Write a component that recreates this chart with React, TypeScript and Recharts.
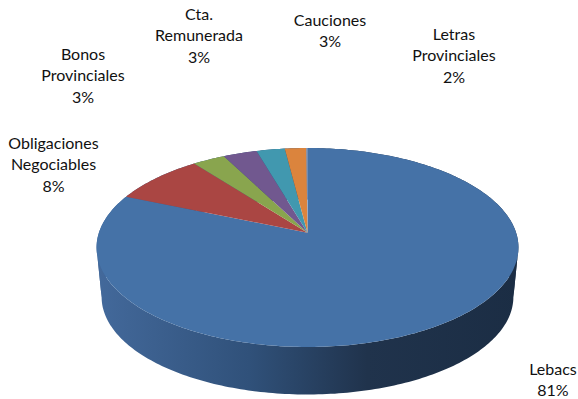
import { PieChart, Pie } from "recharts";

const categories = [
  "Lebacs",
  "Obligaciones Negociables",
  "Bonos Provinciales",
  "Cta. Remunerada",
  "Cauciones",
  "Letras Provinciales",
  "",
];
const values = [81.4, 8.2, 2.9, 3.0, 2.5, 1.9, 0.1];
const colors = ["#4572A7", "#AA4643", "#89A54E", "#71588F", "#4198AF", "#DB843D", "#93A9CF"];

const labelLines = [
  ["Lebacs"],
  ["Obligaciones", "Negociables"],
  ["Bonos", "Provinciales"],
  ["Cta.", "Remunerada"],
  ["Cauciones"],
  ["Letras", "Provinciales"],
  [],
];
const labelAnchors = [
  { x: 553, y: 367.8 },
  { x: 53.5, y: 141.5 },
  { x: 83, y: 52.5 },
  { x: 199, y: 12.5 },
  { x: 330, y: 18.5 },
  { x: 454, y: 32.5 },
  { x: 0, y: 0 },
];

const data = categories.map((name, i) => ({ name, value: values[i], fill: colors[i] }));

const CX = 307.5;
const CY = 232.7;
const RADIUS = 208.6;
// perspective of the tilted disc
const TILT = 0.4664;
const PERSP = 0.1487;
const ELLIPSE_CY = 247.5;
const LINE_HEIGHT = 21.5;

type Pt = { x: number; y: number };

const project = (cx: number, cy: number, r: number, angle: number): Pt => {
  const rad = (angle * Math.PI) / 180;
  const u = Math.cos(rad);
  const v = Math.sin(rad);
  const w = 1 + PERSP * v;
  return { x: cx + (r * u) / w, y: cy - (r * TILT * v) / w };
};

const edgePoints = (props: any) => {
  const { cx, cy, outerRadius, startAngle, endAngle } = props;
  const steps = Math.max(2, Math.ceil(Math.abs(endAngle - startAngle)));
  const pts: Pt[] = [];
  for (let i = 0; i <= steps; i++) {
    pts.push(project(cx, cy, outerRadius, startAngle + ((endAngle - startAngle) * i) / steps));
  }
  return pts;
};

const toPath = (pts: Pt[]) =>
  pts.map((p, i) => `${i ? "L" : "M"}${p.x.toFixed(2)} ${p.y.toFixed(2)}`).join(" ");

const TopFace = (props: any) => {
  const pts = edgePoints(props);
  return <path d={`M${props.cx} ${props.cy} ${toPath(pts).replace("M", "L")} Z`} fill={props.fill} stroke="none" />;
};

const SideWall = (props: any) => {
  const top = edgePoints(props);
  const bottom = top.map((p) => ({
    x: props.cx + (p.x - props.cx) * 0.976,
    y: 297 + (p.y - ELLIPSE_CY) * 0.98,
  }));
  // quads go in one path per winding direction, so no seams and nothing cancels
  const forward: string[] = [];
  const backward: string[] = [];
  top.slice(1).forEach((p, i) => {
    const d = `${toPath([top[i], p, bottom[i + 1], bottom[i]])} Z`;
    if (p.x < top[i].x) forward.push(d);
    else backward.push(d);
  });
  return (
    <g>
      <path d={backward.join(" ")} fill="url(#wallGradient)" stroke="none" />
      <path d={forward.join(" ")} fill="url(#wallGradient)" stroke="none" />
    </g>
  );
};

const renderLabel = (props: any) => {
  const { index } = props;
  const lines = labelLines[index];
  if (!lines.length) return null;
  const anchor = labelAnchors[index];
  const all = [...lines, `${Math.round(values[index])}%`];
  return (
    <text
      key={index}
      textAnchor="middle"
      dominantBaseline="central"
      fontFamily="Lato"
      fontSize={16}
      fill="#111111"
    >
      {all.map((line, i) => (
        <tspan key={i} x={anchor.x} y={anchor.y + i * LINE_HEIGHT} dominantBaseline="central">
          {line}
        </tspan>
      ))}
    </text>
  );
};

export default function App() {
  return (
    <div style={{ position: "absolute", left: 0, top: 0, width: 578, height: 399, background: "#fff" }}>
      <PieChart width={578} height={399} margin={{ top: 0, right: 0, bottom: 0, left: 0 }}>
        <defs>
          <linearGradient id="wallGradient" gradientUnits="userSpaceOnUse" x1="97" y1="0" x2="519" y2="0">
            <stop offset="0%" stopColor="#43699B" />
            <stop offset="36%" stopColor="#30517A" />
            <stop offset="64%" stopColor="#20334C" />
            <stop offset="100%" stopColor="#1B2D44" />
          </linearGradient>
        </defs>
        <Pie
          data={data}
          dataKey="value"
          cx={CX}
          cy={CY}
          outerRadius={RADIUS}
          startAngle={90}
          endAngle={-270}
          paddingAngle={0}
          stroke="none"
          shape={SideWall}
          isAnimationActive={false}
        />
        <Pie
          data={data}
          dataKey="value"
          cx={CX}
          cy={CY}
          outerRadius={RADIUS}
          startAngle={90}
          endAngle={-270}
          paddingAngle={0}
          stroke="none"
          shape={TopFace}
          label={renderLabel}
          labelLine={false}
          isAnimationActive={false}
        />
      </PieChart>
    </div>
  );
}
